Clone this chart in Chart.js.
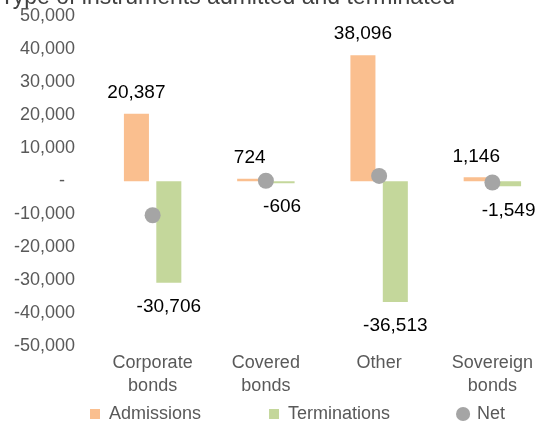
<!DOCTYPE html>
<html>
<head>
<meta charset="utf-8">
<script src="https://cdn.jsdelivr.net/npm/chart.js@4.4.1/dist/chart.umd.min.js"></script>
<style>
  html, body { margin: 0; padding: 0; background: #fff; overflow: hidden; width: 547px; height: 423px; }
  #wrap { position: absolute; left: 0; top: -16px; }
</style>
</head>
<body>
<div id="wrap"><canvas id="graph" width="557" height="441"></canvas></div>
<script>
const titleText = 'Type of instruments admitted and terminated';
const categories = [['Corporate', 'bonds'], ['Covered', 'bonds'], ['Other'], ['Sovereign', 'bonds']];
const admissions = [20387, 724, 38096, 1146];
const terminations = [-30706, -606, -36513, -1549];
const net = [-10319, 118, 1583, -403];
const yMin = -50000, yMax = 50000, yStep = 10000;

const ORANGE = '#FABF8F';
const GREEN = '#C4D79B';
const GREY = '#A5A5A5';
const TEXT = '#595959';

Chart.defaults.font.family = '"Liberation Sans", Arial, sans-serif';
Chart.defaults.color = TEXT;

const fmt = v => v.toLocaleString('en-US');

// value labels just outside the end of each bar
const barLabels = {
    id: 'barLabels',
    afterDatasetsDraw(chart) {
        const ctx = chart.ctx;
        ctx.save();
        ctx.font = '19px "Liberation Sans", Arial, sans-serif';
        ctx.fillStyle = '#000';
        ctx.textAlign = 'center';
        ctx.textBaseline = 'middle';
        [0, 1].forEach(i => {
            const values = chart.data.datasets[i].data;
            chart.getDatasetMeta(i).data.forEach((bar, j) => {
                const v = values[j];
                const y = v >= 0 ? bar.y - 21 : bar.y + 24;
                ctx.fillText(fmt(v), bar.x, y);
            });
        });
        ctx.restore();
    }
};

// legend sits lower and wider than chart.js would put it
const legendPlace = {
    id: 'legendPlace',
    afterLayout(chart) {
        const lg = chart.legend;
        const pad = lg.options.labels.padding;
        lg.left = 90 - pad;
        lg.right = chart.width + 200;
        lg.top = 421 - pad;
        lg.bottom = chart.height;
    }
};

const ctx = document.getElementById('graph').getContext('2d');
const chart = new Chart(ctx, {
    type: 'bar',
    data: {
        labels: categories,
        datasets: [{
            label: 'Admissions',
            data: admissions,
            backgroundColor: ORANGE,
            borderWidth: 0,
            pointStyle: 'rect',
            categoryPercentage: 0.572,
            barPercentage: 0.773
        },
        {
            label: 'Terminations',
            data: terminations,
            backgroundColor: GREEN,
            borderWidth: 0,
            pointStyle: 'rect',
            categoryPercentage: 0.572,
            barPercentage: 0.773
        },
        {
            type: 'line',
            label: 'Net',
            data: net,
            showLine: false,
            order: -1,
            pointStyle: 'circle',
            pointRadius: 8,
            pointHoverRadius: 8,
            pointBorderWidth: 0,
            borderWidth: 0,
            backgroundColor: GREY,
            borderColor: GREY
        }]
    },
    options: {
        responsive: false,
        animation: false,
        events: [],
        layout: { padding: 0 },
        scales: {
            x: {
                grid: { display: false, drawTicks: false },
                border: { display: false },
                ticks: {
                    color: TEXT,
                    padding: 5.5,
                    maxRotation: 0,
                    autoSkip: false,
                    font: { size: 18, lineHeight: 1.25 }
                }
            },
            y: {
                min: yMin,
                max: yMax,
                grid: { display: false, drawTicks: false },
                border: { display: false },
                afterFit(axis) { axis.width = 96; },
                ticks: {
                    stepSize: yStep,
                    color: TEXT,
                    padding: 21,
                    font: { size: 18 },
                    callback: v => v === 0 ? '-  ' : fmt(v)
                }
            }
        },
        plugins: {
            tooltip: { enabled: false },
            title: {
                display: true,
                text: titleText,
                align: 'start',
                color: '#404040',
                font: { size: 23, weight: 'normal' },
                padding: { top: 0, bottom: 4 }
            },
            legend: {
                position: 'bottom',
                align: 'start',
                maxHeight: 22.5,
                labels: {
                    usePointStyle: true,
                    boxWidth: 10,
                    boxHeight: 10,
                    padding: 68,
                    color: TEXT,
                    font: { size: 18 },
                    sort: (a, b) => a.datasetIndex - b.datasetIndex
                }
            }
        }
    },
    plugins: [barLabels, legendPlace]
});
</script>
</body>
</html>
